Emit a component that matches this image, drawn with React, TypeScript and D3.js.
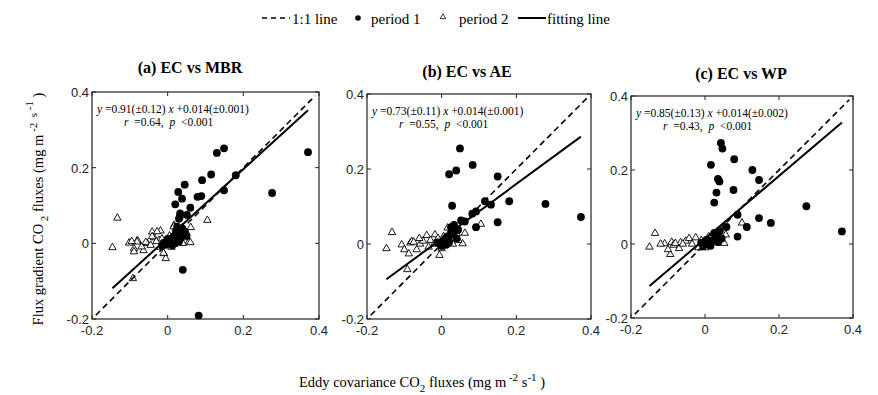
import React from 'react';
import * as d3 from 'd3';

// panel (a) EC vs MBR
const mbrPeriod1: [number, number][] = [
  [0.371, 0.241], [0.276, 0.133], [0.149, 0.251], [0.130, 0.239], [0.180, 0.180], [0.149, 0.140],
  [0.115, 0.182], [0.091, 0.167], [0.079, 0.123], [0.089, 0.125], [0.045, 0.155], [0.028, 0.136],
  [0.038, 0.118], [0.020, 0.103], [0.060, 0.094], [0.051, 0.075], [0.033, 0.079], [0.032, 0.070],
  [0.030, 0.065], [0.082, -0.191], [0.040, -0.070], [0.039, 0.039], [0.025, 0.044], [0.046, 0.030],
  [0.007, 0.009], [0.016, 0.018], [0.025, 0.026], [0.003, 0.0], [-0.006, -0.004], [0.020, 0.0],
  [0.033, 0.013], [0.042, 0.026], [0.010, 0.005], [-0.010, 0.002], [0.012, -0.005], [0.030, 0.005],
  [0.000, 0.012], [-0.015, -0.006], [0.050, 0.020], [0.022, 0.033],
];
const mbrPeriod2: [number, number][] = [
  [-0.133, 0.067], [-0.146, -0.011], [-0.102, 0.001], [-0.089, -0.014], [-0.080, 0.008], [-0.064, -0.019],
  [-0.054, 0.0], [-0.041, 0.030], [-0.036, 0.015], [-0.019, 0.033], [-0.023, 0.008], [-0.001, 0.004],
  [0.017, 0.048], [0.039, 0.042], [0.061, 0.042], [0.056, 0.004], [0.105, 0.061], [-0.010, -0.027],
  [-0.005, -0.040], [-0.092, -0.093], [-0.089, -0.022], [-0.069, -0.009], [-0.081, 0.004], [-0.041, 0.018],
  [-0.028, 0.031], [0.016, 0.044], [0.033, 0.031], [0.060, 0.002], [-0.011, -0.026], [-0.095, 0.005],
  [-0.058, 0.003], [-0.030, 0.005], [-0.015, 0.012], [0.005, 0.020], [0.020, 0.010], [0.040, 0.0],
  [0.030, 0.020], [-0.045, -0.005], [0.010, -0.010], [-0.020, -0.010], [0.045, 0.015],
];

// panel (b) EC vs AE
const aePeriod1: [number, number][] = [
  [0.373, 0.072], [0.278, 0.107], [0.181, 0.114], [0.150, 0.180], [0.150, 0.058], [0.049, 0.255],
  [0.039, 0.196], [0.020, 0.186], [0.083, 0.211], [0.028, 0.102], [0.116, 0.114], [0.132, 0.105],
  [0.092, 0.045], [0.082, 0.081], [0.092, 0.087], [0.052, 0.063], [0.062, 0.060], [0.033, 0.051],
  [0.044, 0.038], [0.025, 0.045], [0.015, 0.020], [0.005, 0.008], [0.020, 0.005], [-0.005, 0.002],
  [0.010, 0.015], [0.030, 0.025], [0.040, 0.015], [0.0, -0.005], [0.012, -0.002], [0.035, 0.035],
  [-0.012, 0.004], [0.025, 0.030],
];
const aePeriod2: [number, number][] = [
  [-0.148, -0.012], [-0.133, 0.031], [-0.092, -0.068], [-0.107, -0.002], [-0.100, -0.015], [-0.088, -0.026],
  [-0.084, 0.003], [-0.080, 0.007], [-0.067, -0.015], [-0.058, 0.0], [-0.040, 0.023], [-0.018, 0.025],
  [-0.006, -0.030], [0.016, 0.043], [0.062, 0.029], [0.105, 0.053], [0.056, 0.001], [-0.075, 0.005],
  [-0.050, 0.008], [-0.030, 0.010], [-0.020, 0.0], [-0.010, 0.015], [0.005, 0.020], [0.020, 0.012],
  [0.030, 0.0], [0.045, 0.010], [-0.035, -0.008], [0.0, -0.012], [0.040, 0.028], [-0.060, 0.015],
];

// panel (c) EC vs WP
const wpPeriod1: [number, number][] = [
  [0.370, 0.034], [0.274, 0.102], [0.178, 0.057], [0.146, 0.070], [0.146, 0.173], [0.128, 0.200],
  [0.079, 0.229], [0.077, 0.146], [0.043, 0.273], [0.047, 0.258], [0.016, 0.214], [0.035, 0.176],
  [0.039, 0.169], [0.031, 0.139], [0.025, 0.112], [0.088, 0.079], [0.088, 0.020], [0.113, 0.046],
  [0.058, 0.046], [0.040, 0.035], [0.030, 0.020], [0.020, 0.010], [0.010, 0.005], [0.0, 0.0],
  [-0.010, 0.003], [0.015, -0.005], [0.025, 0.030], [0.045, 0.015], [0.005, 0.012], [-0.005, -0.006],
  [0.035, 0.005],
];
const wpPeriod2: [number, number][] = [
  [-0.150, -0.008], [-0.135, 0.029], [-0.109, 0.001], [-0.094, -0.028], [-0.090, 0.005], [-0.085, -0.003],
  [-0.070, -0.012], [-0.066, 0.004], [-0.052, 0.008], [-0.043, 0.015], [-0.025, 0.017], [-0.018, -0.010],
  [0.100, 0.057], [0.056, 0.025], [0.052, 0.002], [-0.100, -0.015], [-0.080, 0.002], [-0.060, 0.0],
  [-0.035, 0.0], [-0.010, 0.010], [0.0, -0.010], [0.010, 0.020], [0.025, 0.005], [0.040, 0.015],
  [-0.120, 0.0], [-0.005, 0.005],
];

const titles = ['(a) EC vs MBR', '(b) EC vs AE', '(c) EC vs WP'];
const slopes = [0.91, 0.73, 0.85];
const slopeErr = ['0.12', '0.11', '0.13'];
const intercepts = [0.014, 0.014, 0.014];
const interceptErr = ['0.001', '0.001', '0.002'];
const rValues = ['0.64', '0.55', '0.43'];
const tickValues = [-0.2, 0, 0.2, 0.4];
const tickLabels = ['-0.2', '0', '0.2', '0.4'];

const period1 = [mbrPeriod1, aePeriod1, wpPeriod1];
const period2 = [mbrPeriod2, aePeriod2, wpPeriod2];

// layout of each panel (pixel box)
const boxes = [
  { x0: 92, x1: 319, y0: 92, y1: 319, tx: 190, ty: 73 },
  { x0: 367, x1: 591, y0: 94, y1: 319, tx: 467, ty: 77 },
  { x0: 631, x1: 853, y0: 96, y1: 318, tx: 741, ty: 79 },
];

const serif = '"Liberation Serif", "Times New Roman", serif';
const sans = '"Liberation Sans", Arial, sans-serif';

function Panel({ i }: { i: number }) {
  const b = boxes[i];
  const x = d3.scaleLinear().domain([-0.2, 0.4]).range([b.x0, b.x1]);
  const y = d3.scaleLinear().domain([-0.2, 0.4]).range([b.y1, b.y0]);
  const line = d3.line<[number, number]>().x(d => x(d[0])).y(d => y(d[1]));

  const all = [...period1[i], ...period2[i]];
  const [xmin, xmax] = d3.extent(all, d => d[0]) as [number, number];
  const fit: [number, number][] = [xmin, xmax].map(v => [v, slopes[i] * v + intercepts[i]]);
  const oneToOne: [number, number][] = [[-0.19, -0.19], [0.39, 0.39]];

  const tri = d3.symbol().type(d3.symbolTriangle).size(24)()!;
  const tl = 4;

  return (
    <g>
      <text x={b.tx} y={b.ty} textAnchor="middle" fontFamily={serif} fontWeight="bold" fontSize={16}>
        {titles[i]}
      </text>
      {period2[i].map((d, k) => (
        <path key={'t' + k} d={tri} transform={`translate(${x(d[0])},${y(d[1])})`} fill="#fff" stroke="#000" strokeWidth={0.9} />
      ))}
      {period1[i].map((d, k) => (
        <circle key={'c' + k} cx={x(d[0])} cy={y(d[1])} r={3.9} fill="#000" />
      ))}
      <path d={line(oneToOne)!} stroke="#000" strokeWidth={1.6} strokeDasharray="6,4" fill="none" />
      <path d={line(fit)!} stroke="#000" strokeWidth={2} fill="none" />
      <rect x={b.x0} y={b.y0} width={b.x1 - b.x0} height={b.y1 - b.y0} fill="none" stroke="#222" strokeWidth={1.2} />
      {tickValues.map((t, k) => (
        <g key={'tk' + k}>
          <line x1={x(t)} x2={x(t)} y1={b.y1} y2={b.y1 - tl} stroke="#222" />
          <line x1={x(t)} x2={x(t)} y1={b.y0} y2={b.y0 + tl} stroke="#222" />
          <line x1={b.x0} x2={b.x0 + tl} y1={y(t)} y2={y(t)} stroke="#222" />
          <line x1={b.x1} x2={b.x1 - tl} y1={y(t)} y2={y(t)} stroke="#222" />
          <text x={x(t)} y={b.y1 + 16} textAnchor="middle" fontFamily={sans} fontSize={13} fill="#222">{tickLabels[k]}</text>
          <text x={b.x0 - 3} y={y(t) + 5} textAnchor="end" fontFamily={sans} fontSize={13} fill="#222">{tickLabels[k]}</text>
        </g>
      ))}
      <text x={b.x0 + 5} y={b.y0 + 21} fontFamily={serif} fontSize={11.5} style={{ whiteSpace: 'pre' }}>
        <tspan fontStyle="italic">y</tspan>
        {` =${slopes[i].toFixed(2)}(\u00b1${slopeErr[i]}) `}
        <tspan fontStyle="italic">x</tspan>
        {` +${intercepts[i].toFixed(3)}(\u00b1${interceptErr[i]})`}
      </text>
      <text x={b.x0 + 32} y={b.y0 + 34} fontFamily={serif} fontSize={11.5} style={{ whiteSpace: 'pre' }}>
        <tspan fontStyle="italic">r</tspan>
        {`  =${rValues[i]},  `}
        <tspan fontStyle="italic">p</tspan>
        {'  <0.001'}
      </text>
    </g>
  );
}

export default function App() {
  const tri = d3.symbol().type(d3.symbolTriangle).size(22)()!;
  return (
    <svg width={878} height={395} style={{ position: 'absolute', left: 0, top: 0, background: '#fff' }}>
      <rect width={878} height={395} fill="#fff" />
      {/* legend */}
      <g fontFamily={serif} fontSize={15}>
        <line x1={262} x2={290} y1={18} y2={18} stroke="#000" strokeWidth={1.5} strokeDasharray="5,4" />
        <text x={292} y={24}>1:1 line</text>
        <circle cx={358} cy={18} r={2.8} fill="#000" />
        <text x={371} y={24}>period 1</text>
        <path d={tri} transform="translate(443,17) scale(0.8)" fill="#fff" stroke="#000" strokeWidth={1} />
        <text x={459} y={24}>period 2</text>
        <line x1={518} x2={546} y1={18} y2={18} stroke="#000" strokeWidth={2} />
        <text x={547} y={24}>fitting line</text>
      </g>
      {[0, 1, 2].map(i => <Panel key={i} i={i} />)}
      <text transform="translate(43,209) rotate(-90)" textAnchor="middle" fontFamily={serif} fontSize={14.5} style={{ whiteSpace: 'pre' }}>
        Flux gradient CO<tspan dy={5} fontSize={11}> 2</tspan>
        <tspan dy={-5}> fluxes (mg m</tspan>
        <tspan dy={-6} fontSize={11}> -2</tspan>
        <tspan dy={0} fontSize={11}>  s</tspan>
        <tspan dy={-4} fontSize={11}> -1</tspan>
        <tspan dy={10}> )</tspan>
      </text>
      <text x={422} y={387} textAnchor="middle" fontFamily={serif} fontSize={14.5} style={{ whiteSpace: 'pre' }}>
        Eddy covariance CO<tspan dy={5} fontSize={11}>2</tspan>
        <tspan dy={-5}> fluxes (mg m</tspan>
        <tspan dy={-6} fontSize={11}> -2</tspan>
        <tspan dy={6}> s</tspan>
        <tspan dy={-6} fontSize={11}>-1</tspan>
        <tspan dy={6}> )</tspan>
      </text>
    </svg>
  );
}
